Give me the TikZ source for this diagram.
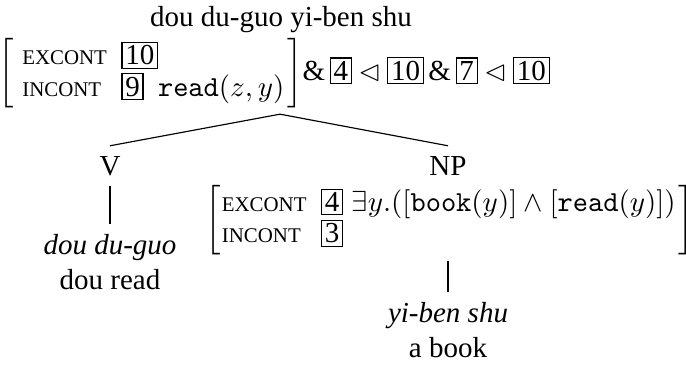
\documentclass[tikz,border=0pt]{standalone}
\usepackage{amssymb}
\usepackage{fontspec}
\setmainfont{Liberation Serif}

% feature names in (faked) small capitals, boxed tags
\newcommand\featname[1]{\mbox{\fontsize{7.2}{8}\selectfont #1}}
\newcommand\tagbox[1]{\fbox{\normalfont #1}}
\setlength\fboxsep{0.9pt}
\setlength\fboxrule{0.4pt}

\begin{document}
\begin{tikzpicture}[x=0.34483pt,y=-0.34483pt]
\tikzset{
  avm/.style={inner sep=2pt},
  word/.style={align=center, inner sep=3.33pt},
  cat/.style={inner sep=3.33pt},
  branch/.style={line width=0.4pt},
}
\useasboundingbox (0,0) rectangle (686,367);

% mother node
\node[anchor=base] (head) at (281,27) {dou du-guo yi-ben shu};
\node[avm] (top) at (274,73) {\renewcommand\arraystretch{0.8}%
  $\left[\begin{array}{@{\hspace{3pt}}l@{\hspace{5pt}}l@{\hspace{1pt}}}
    \featname{EXCONT} & \tagbox{10}\\
    \featname{INCONT} & \tagbox{9}\hspace{5pt}\texttt{read}(z,y)
  \end{array}\right]\!\mbox{\&}\hspace{1.6pt}\tagbox{4}\lhd\tagbox{10}\hspace{1.6pt}\mbox{\&}\hspace{1.6pt}\tagbox{7}\lhd\tagbox{10}$};

% daughters
\node[cat, anchor=base] (v) at (110,175) {V};
\node[cat, anchor=base] (np) at (448,175) {NP};
\node[avm] (npavm) at (449.5,220) {\renewcommand\arraystretch{0.8}%
  $\left[\begin{array}{@{\hspace{0.5pt}}l@{\hspace{5pt}}l@{\hspace{1pt}}}
    \featname{EXCONT} & \tagbox{4}\hspace{3pt}\exists y.([\texttt{book}(y)]\wedge[\texttt{read}(y)])\\
    \featname{INCONT} & \tagbox{3}
  \end{array}\right]$};

% words with glosses (base = baseline of the gloss line)
\node[word, anchor=base] (vw) at (110,289) {\textit{dou du-guo}\\dou read};
\node[word, anchor=base] (npw) at (448,357) {\textit{yi-ben shu}\\a book};

% branches
\coordinate (apex) at (top.south -| 280,0);
\draw[branch] (apex) -- (v.north);
\draw[branch] (apex) -- (np.north);
\draw[branch] (v.south) -- (vw.north);
\draw[branch] (npavm.south -| npw.north) -- (npw.north);
\end{tikzpicture}
\end{document}
